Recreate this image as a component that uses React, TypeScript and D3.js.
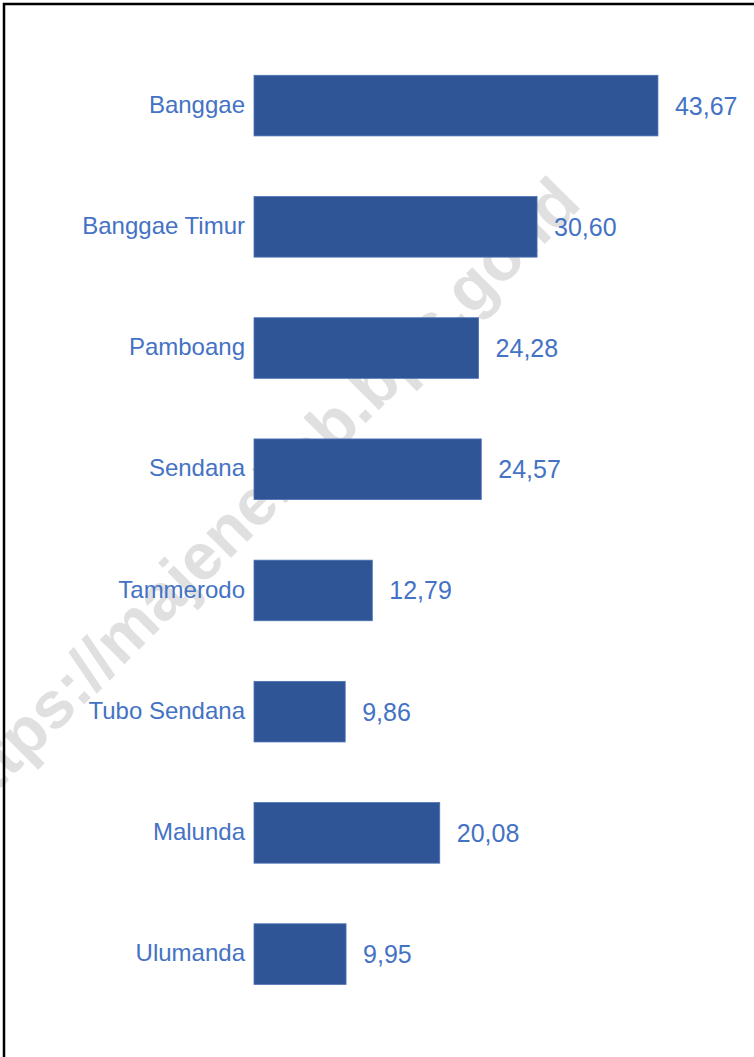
import React from "react";
import * as d3 from "d3";

// kecamatan and values
const categories = [
  "Banggae",
  "Banggae Timur",
  "Pamboang",
  "Sendana",
  "Tammerodo",
  "Tubo Sendana",
  "Malunda",
  "Ulumanda",
];
const values = [43.67, 30.6, 24.28, 24.57, 12.79, 9.86, 20.08, 9.95];
const watermark = "https://majenekab.bps.go.id";

const W = 754;
const H = 1057;

const idLocale = d3.formatLocale({
  decimal: ",",
  thousands: ".",
  grouping: [3],
  currency: ["Rp", ""],
});
const fmt = idLocale.format(".2f");

const App = () => {
  // scales
  const x = d3.scaleLinear().domain([0, 45]).range([254, 254 + 9.25 * 45]);
  const y = d3
    .scaleBand()
    .domain(categories)
    .range([14.7, 1045])
    .paddingInner(0.5)
    .paddingOuter(0.5);

  const font = "'Liberation Sans', Arial, sans-serif";
  const textColor = "#4472c4";
  const barColor = "#2f5597";

  return (
    <svg
      width={W}
      height={H}
      style={{ position: "absolute", left: 0, top: 0, background: "#fff" }}
    >
      <rect x={0} y={0} width={W} height={H} fill="#fff" />

      {/* watermark behind the bars */}
      <text
        transform="translate(258,498) rotate(-45)"
        textAnchor="middle"
        dy="0.35em"
        fontFamily={font}
        fontWeight="bold"
        fontSize={66}
        fill="#e0e0e0"
      >
        {watermark}
      </text>

      {/* frame, cropped at right and bottom */}
      <path d={`M4,${H + 5} V4 H${W + 5}`} fill="none" stroke="#000" strokeWidth={2.5} />

      {categories.map((c, i) => {
        const y0 = y(c) as number;
        const cy = y0 + y.bandwidth() / 2;
        return (
          <g key={c}>
            <rect
              x={x(0)}
              y={y0}
              width={x(values[i]) - x(0)}
              height={y.bandwidth()}
              fill={barColor}
              stroke="#4d72b5"
              strokeWidth={0.8}
            />
            <text
              x={245}
              y={cy}
              dy="0.3em"
              textAnchor="end"
              fontFamily={font}
              fontSize={24}
              fill={textColor}
            >
              {c}
            </text>
            <text
              x={x(values[i]) + 17}
              y={cy}
              dy="0.36em"
              fontFamily={font}
              fontSize={25}
              fill={textColor}
            >
              {fmt(values[i])}
            </text>
          </g>
        );
      })}
    </svg>
  );
};

export default App;
